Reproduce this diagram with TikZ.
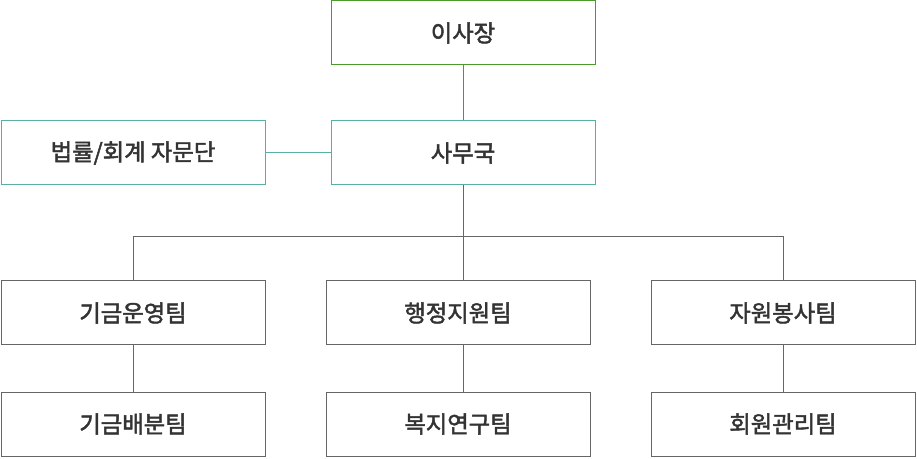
\documentclass[tikz,border=0pt]{standalone}
\usepackage{fontspec}
\setmainfont{Noto Sans CJK KR}[FakeBold=2]
\usetikzlibrary{positioning}
\definecolor{boxgray}{HTML}{666666}
\definecolor{topgreen}{HTML}{4C9A2A}
\definecolor{officeteal}{HTML}{5AAFA3}
\definecolor{textgray}{HTML}{333333}

\begin{document}
\begin{tikzpicture}[x=0.75pt, y=-0.75pt]
    %
    \tikzset{orgbox/.style={draw=boxgray, line width=0.75pt, minimum width=198pt, minimum height=48pt,
        inner sep=0pt, text=textgray, font=\fontsize{17.5}{20}\selectfont}}
    \tikzset{link/.style={line width=0.75pt, boxgray}}

    \useasboundingbox (0,0) rectangle (917,459);

    %
    \node[orgbox, draw=topgreen] (chair) at (463,33) {이사장};
    \node[orgbox, draw=officeteal] (office) at (463,153) {사무국};
    \node[orgbox, draw=officeteal] (advisory) at (133,153) {법률/회계 자문단};

    %
    \node[orgbox] (fundops) at (133,313) {기금운영팀};
    \node[orgbox] (admin) at (458,313) {행정지원팀};
    \node[orgbox] (volunteer) at (783,313) {자원봉사팀};

    \node[orgbox] (funddist) at (133,424) {기금배분팀};
    \node[orgbox] (welfare) at (458,424) {복지연구팀};
    \node[orgbox] (members) at (783,424) {회원관리팀};

    %
    \coordinate (busleft) at (133,237);
    \coordinate (busright) at (783,237);

    \draw[link, topgreen] (chair) -- (office);
    \draw[link, officeteal] (advisory) -- (office);
    \draw[link] (office.south) -- (office.south |- admin.north);
    \draw[link] (fundops.north) -- (busleft) -- (busright) -- (volunteer.north);

    \draw[link] (fundops) -- (funddist);
    \draw[link] (office.south |- admin.south) -- (office.south |- welfare.north);
    \draw[link] (volunteer) -- (members);

\end{tikzpicture}
\end{document}
